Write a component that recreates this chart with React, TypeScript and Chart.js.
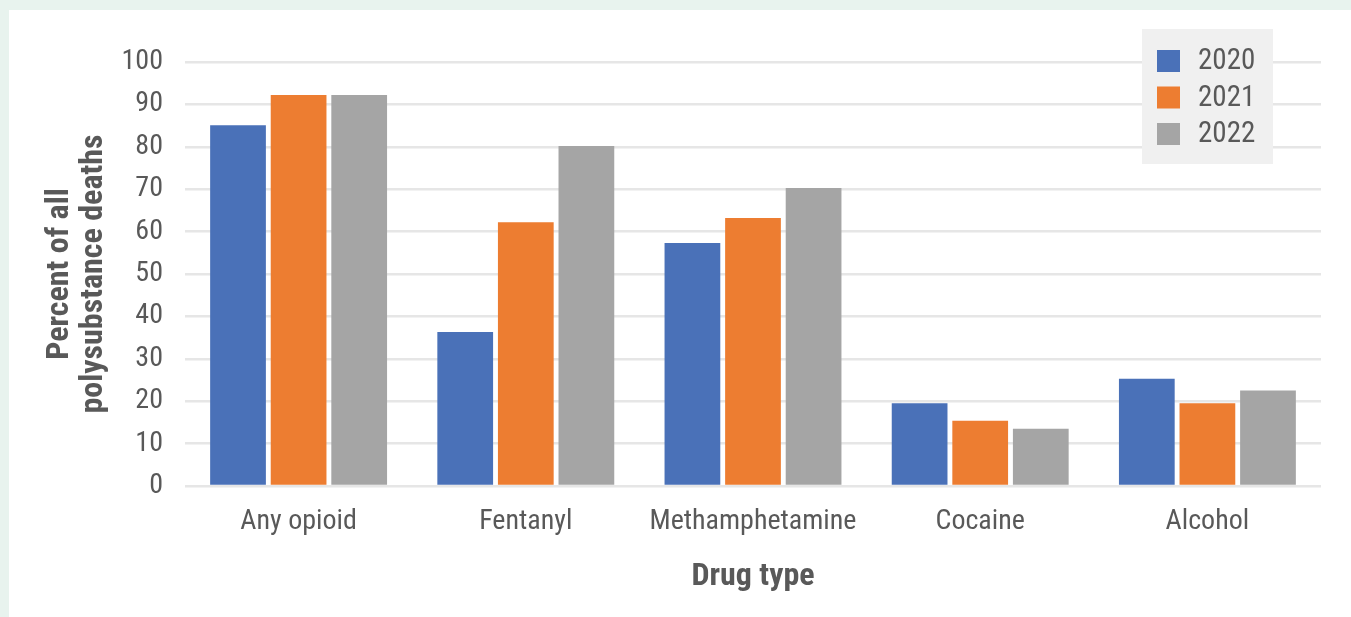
import React, { useEffect, useRef } from "react";
import { Chart, registerables } from "chart.js";

Chart.register(...registerables);

const categories = ["Any opioid", "Fentanyl", "Methamphetamine", "Cocaine", "Alcohol"];
const seriesLabels = ["2020", "2021", "2022"];
const values2020 = [85.1, 36.3, 57.3, 19.5, 25.3];
const values2021 = [92.2, 62.2, 63.2, 15.4, 19.5];
const values2022 = [92.2, 80.2, 70.3, 13.5, 22.5];
const seriesColors = ["#4a71b8", "#ed7d31", "#a5a5a5"];
const yTicks = [0, 10, 20, 30, 40, 50, 60, 70, 80, 90, 100];

const FONT = "'Roboto Condensed', 'Liberation Sans Narrow', 'DejaVu Sans Condensed', sans-serif";
const TEXT = "#595959";

// Boxed legend drawn inside the plot's upper-right corner
const boxLegend = {
  id: "boxLegend",
  afterDraw(chart: any) {
    const { ctx, chartArea } = chart;
    const boxW = 131;
    const boxH = 135;
    const x = chartArea.right - 48 - boxW;
    const y = chartArea.top - 33;
    ctx.save();
    ctx.fillStyle = "#f0f0f0";
    ctx.fillRect(x, y, boxW, boxH);
    ctx.font = `29px ${FONT}`;
    ctx.textBaseline = "middle";
    ctx.textAlign = "left";
    chart.data.datasets.forEach((ds: any, i: number) => {
      const cy = y + 32 + i * 36.5;
      ctx.fillStyle = ds.backgroundColor;
      ctx.fillRect(x + 15, cy - 11, 23, 22);
      ctx.fillStyle = TEXT;
      ctx.fillText(ds.label, x + 56, cy + 1);
    });
    ctx.restore();
  },
};

function BarChart() {
  const ref = useRef<HTMLCanvasElement | null>(null);

  useEffect(() => {
    if (!ref.current) return;
    const series = [values2020, values2021, values2022];
    const chart = new Chart(ref.current, {
      type: "bar",
      data: {
        labels: categories,
        datasets: series.map((data, i) => ({
          label: seriesLabels[i],
          data,
          backgroundColor: seriesColors[i],
          borderWidth: 0,
          barPercentage: 0.92,
          categoryPercentage: 0.8,
        })),
      },
      options: {
        animation: false,
        responsive: true,
        maintainAspectRatio: false,
        layout: { padding: { top: 52, right: 30, bottom: 0, left: 0 } },
        plugins: {
          legend: { display: false },
          tooltip: { enabled: false },
        },
        scales: {
          x: {
            grid: { display: false, drawTicks: false },
            border: { display: false },
            ticks: {
              color: TEXT,
              font: { family: FONT, size: 28 },
              padding: 19,
              maxRotation: 0,
              autoSkip: false,
            },
            title: {
              display: true,
              text: "Drug type",
              color: TEXT,
              font: { family: FONT, size: 32, weight: "bold" },
              padding: { top: 0, bottom: 21 },
            },
            afterFit: (scale: any) => {
              scale.height = 131;
            },
          },
          y: {
            min: 0,
            max: 100,
            afterBuildTicks: (scale: any) => {
              scale.ticks = yTicks.map((v) => ({ value: v }));
            },
            grid: { color: "#e6e6e6", lineWidth: 2.5, drawTicks: false },
            border: { display: false },
            ticks: {
              color: TEXT,
              font: { family: FONT, size: 28 },
              padding: 22,
            },
            title: {
              display: true,
              text: ["Percent of all", "polysubstance deaths"],
              color: TEXT,
              font: { family: FONT, size: 32, weight: "bold", lineHeight: 1.06 },
              padding: { top: 34, bottom: 0 },
            },
            afterFit: (scale: any) => {
              scale.width = 176;
            },
          },
        },
      },
      plugins: [boxLegend],
    });
    return () => chart.destroy();
  }, []);

  return <canvas ref={ref} />;
}

export default function App() {
  return (
    <div
      style={{
        position: "fixed",
        inset: 0,
        background: "#e8f3ee",
      }}
    >
      <div
        style={{
          position: "absolute",
          left: 9,
          top: 10,
          right: 0,
          bottom: 0,
          background: "#ffffff",
        }}
      >
        <BarChart />
      </div>
    </div>
  );
}
